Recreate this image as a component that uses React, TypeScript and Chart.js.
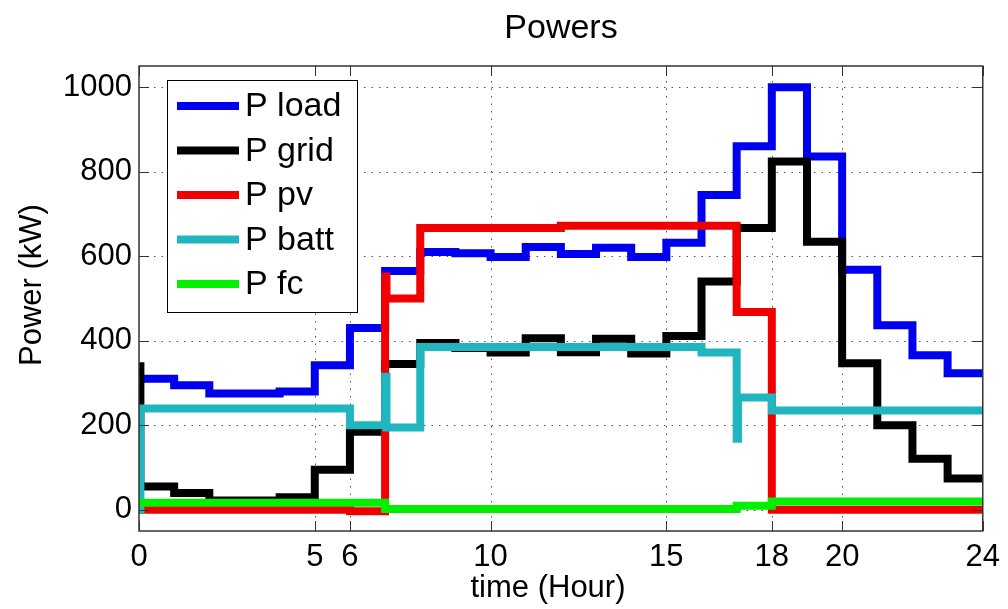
import React, { useEffect, useRef } from "react";
import { Chart, registerables } from "chart.js";

Chart.register(...registerables);

// ---------- data (hourly step values, kW) ----------
const hours = [0, 1, 2, 3, 4, 5, 6, 7, 8, 9, 10, 11, 12, 13, 14, 15, 16, 17, 18, 19, 20, 21, 22, 23, 24];

const pLoad = [310, 295, 275, 275, 280, 342, 430, 565, 610, 607, 598, 622, 605, 620, 598, 632, 745, 860, 1000, 836, 568, 437, 366, 323];
const pGrid = [55, 40, 22, 22, 30, 95, 185, 345, 395, 383, 372, 406, 373, 405, 370, 411, 540, 667, 824, 634, 347, 200, 121, 74];
const pPv = [0, 0, 0, 0, 0, 0, -3, 500, 667, 667, 667, 667, 672, 672, 672, 672, 672, 468, 0, 0, 0, 0, 0, 0];
const pBatt = [240, 240, 240, 240, 240, 240, 200, 195, 385, 385, 385, 385, 385, 385, 385, 385, 372, 266, 235, 235, 235, 235, 235, 235];
const pFc = [17, 17, 17, 17, 17, 17, 17, 2, 2, 2, 2, 2, 2, 2, 2, 2, 2, 10, 20, 20, 20, 20, 20, 20];

// brief switching transients at an hour boundary: [hour, value]
const gridTransients = [[0, 340]];
const pvTransients = [[7, 552]];
const battTransients = [[0, 0], [7, 315], [17, 168]];
const fcTransients: number[][] = [];
const loadTransients: number[][] = [];

const seriesNames = ["P load", "P grid", "P pv", "P batt", "P fc"];
const seriesColors = ["#0000f0", "#000000", "#f00000", "#1fb6bf", "#00f000"];

const xTicks = [0, 5, 6, 10, 15, 18, 20, 24];
const yTicks = [0, 200, 400, 600, 800, 1000];

const chartTitle = "Powers";
const xTitle = "time (Hour)";
const yTitle = "Power (kW)";

const FONT = "'Liberation Sans', Arial, Helvetica, sans-serif";

function buildSeries(values: number[], transients: number[][]) {
  const pts: { x: number; y: number }[] = [];
  for (let i = 0; i < values.length; i++) {
    const tr = transients.filter((t) => t[0] === hours[i]);
    tr.forEach((t) => pts.push({ x: t[0], y: t[1] }));
    pts.push({ x: hours[i] + (tr.length ? 0.04 : 0), y: values[i] });
  }
  pts.push({ x: hours[values.length], y: values[values.length - 1] });
  return pts;
}

const framePlugin = {
  id: "matlabFrame",
  beforeDatasetsDraw(chart: any) {
    const { ctx, chartArea, scales } = chart;
    const { left, right, top, bottom } = chartArea;
    ctx.save();
    ctx.strokeStyle = "#555";
    ctx.lineWidth = 1;
    ctx.setLineDash([1.5, 6]);
    xTicks.forEach((v) => {
      if (v === 0 || v === 24) return;
      const px = Math.round(scales.x.getPixelForValue(v)) + 0.5;
      ctx.beginPath();
      ctx.moveTo(px, top);
      ctx.lineTo(px, bottom);
      ctx.stroke();
    });
    yTicks.forEach((v) => {
      const py = Math.round(scales.y.getPixelForValue(v)) + 0.5;
      ctx.beginPath();
      ctx.moveTo(left, py);
      ctx.lineTo(right, py);
      ctx.stroke();
    });
    ctx.restore();
  },
  afterDatasetsDraw(chart: any) {
    const { ctx, chartArea, scales } = chart;
    const { left, right, top, bottom } = chartArea;
    ctx.save();
    // box
    ctx.strokeStyle = "#333";
    ctx.lineWidth = 1.5;
    ctx.setLineDash([]);
    ctx.strokeRect(left, top, right - left, bottom - top);
    // inside ticks
    const tl = 10;
    ctx.lineWidth = 1;
    xTicks.forEach((v) => {
      const px = Math.round(scales.x.getPixelForValue(v)) + 0.5;
      ctx.beginPath();
      ctx.moveTo(px, bottom);
      ctx.lineTo(px, bottom - tl);
      ctx.moveTo(px, top);
      ctx.lineTo(px, top + tl);
      ctx.stroke();
    });
    yTicks.forEach((v) => {
      const py = Math.round(scales.y.getPixelForValue(v)) + 0.5;
      ctx.beginPath();
      ctx.moveTo(left, py);
      ctx.lineTo(left + tl, py);
      ctx.moveTo(right, py);
      ctx.lineTo(right - tl, py);
      ctx.stroke();
    });

    // legend
    const bx = 167, by = 80, bw = 190, bh = 232;
    ctx.fillStyle = "#fff";
    ctx.fillRect(bx, by, bw, bh);
    ctx.strokeStyle = "#000";
    ctx.lineWidth = 1;
    ctx.strokeRect(bx + 0.5, by + 0.5, bw, bh);
    ctx.font = `34px ${FONT}`;
    ctx.textBaseline = "middle";
    ctx.textAlign = "left";
    seriesNames.forEach((name, i) => {
      const cy = 106 + i * 44.5;
      ctx.strokeStyle = seriesColors[i];
      ctx.lineWidth = 8;
      ctx.beginPath();
      ctx.moveTo(177, cy);
      ctx.lineTo(239, cy);
      ctx.stroke();
      ctx.fillStyle = "#000";
      ctx.fillText(name, 245, cy + 1);
    });

    // titles
    ctx.fillStyle = "#000";
    ctx.textBaseline = "alphabetic";
    ctx.textAlign = "center";
    ctx.font = `34px ${FONT}`;
    ctx.fillText(chartTitle, 561, 38);
    ctx.font = `31px ${FONT}`;
    ctx.fillText(xTitle, 548, 597);
    ctx.save();
    ctx.translate(41, 285);
    ctx.rotate(-Math.PI / 2);
    ctx.fillText(yTitle, 0, 0);
    ctx.restore();
    ctx.restore();
  },
};

export default function App() {
  const canvasRef = useRef<HTMLCanvasElement | null>(null);

  useEffect(() => {
    document.body.style.margin = "0";
    const canvas = canvasRef.current;
    if (!canvas) return;
    const seriesValues = [pLoad, pGrid, pPv, pBatt, pFc];
    const seriesTransients = [loadTransients, gridTransients, pvTransients, battTransients, fcTransients];
    const datasets = seriesNames.map((name, i) => ({
      label: name,
      data: buildSeries(seriesValues[i], seriesTransients[i]),
      borderColor: seriesColors[i],
      backgroundColor: seriesColors[i],
      borderWidth: 8,
      stepped: true as const,
      pointRadius: 0,
      fill: false,
      tension: 0,
      borderJoinStyle: "miter" as const,
      borderCapStyle: "butt" as const,
      clip: 0,
      order: seriesNames.length - i,
    }));

    const chart = new Chart(canvas, {
      type: "line",
      data: { datasets },
      options: {
        animation: false,
        responsive: false,
        maintainAspectRatio: false,
        parsing: false,
        layout: { padding: { top: 66, right: 20, left: 0, bottom: 0 } },
        plugins: {
          legend: { display: false },
          title: { display: false },
          tooltip: { enabled: false },
        },
        scales: {
          x: {
            type: "linear",
            min: 0,
            max: 24,
            grid: { display: false, drawTicks: false },
            border: { display: false },
            afterBuildTicks: (scale: any) => {
              scale.ticks = xTicks.map((v) => ({ value: v }));
            },
            afterFit: (scale: any) => {
              scale.height = 78;
            },
            ticks: {
              autoSkip: false,
              maxRotation: 0,
              padding: 8,
              color: "#000",
              font: { size: 31, family: FONT },
              callback: (v: any) => String(v),
            },
          },
          y: {
            type: "linear",
            min: -50,
            max: 1050,
            grid: { display: false, drawTicks: false },
            border: { display: false },
            afterBuildTicks: (scale: any) => {
              scale.ticks = yTicks.map((v) => ({ value: v }));
            },
            afterFit: (scale: any) => {
              scale.width = 139;
            },
            ticks: {
              autoSkip: false,
              padding: 7,
              color: "#000",
              font: { size: 31, family: FONT },
              callback: (v: any) => String(v),
            },
          },
        },
      },
      plugins: [framePlugin],
    });
    return () => chart.destroy();
  }, []);

  return (
    <div style={{ width: 1008, height: 609, background: "#fff" }}>
      <canvas ref={canvasRef} width={1008} height={609} />
    </div>
  );
}
